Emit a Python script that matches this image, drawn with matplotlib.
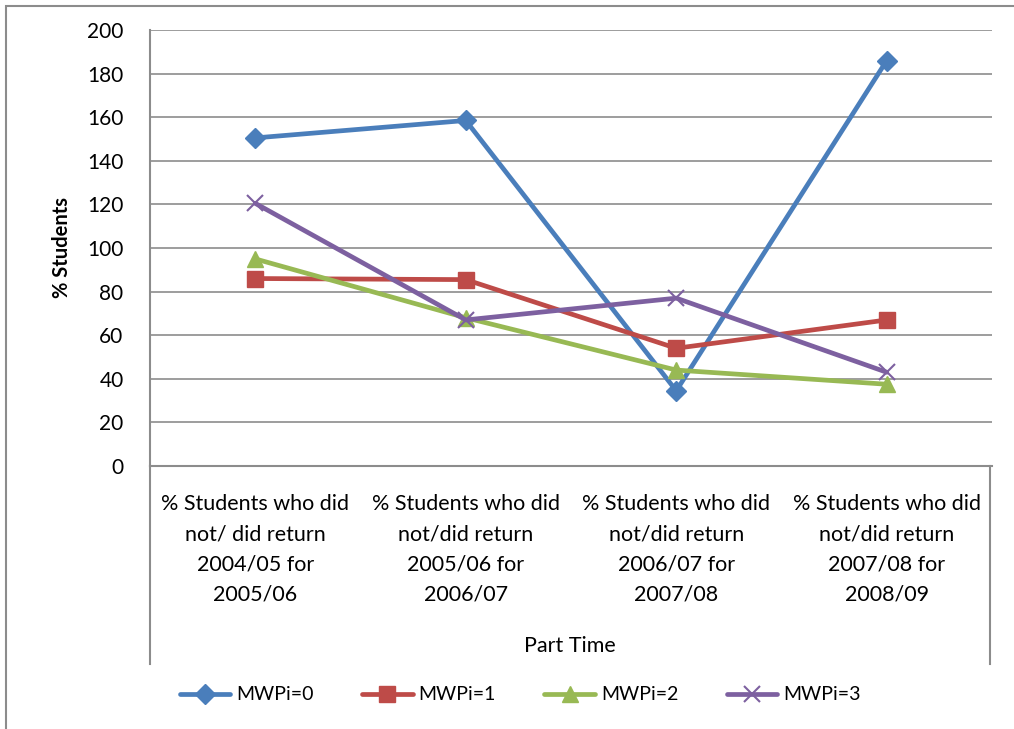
import matplotlib
matplotlib.use("Agg")
import matplotlib.pyplot as plt
from matplotlib.lines import Line2D
from matplotlib.patches import Rectangle

plt.rcParams['font.family'] = ['Lato', 'DejaVu Sans']

categories = [
    "% Students who did\nnot/ did return\n2004/05 for\n2005/06",
    "% Students who did\nnot/did return\n2005/06 for\n2006/07",
    "% Students who did\nnot/did return\n2006/07 for\n2007/08",
    "% Students who did\nnot/did return\n2007/08 for\n2008/09",
]
mwpi0 = [150.5, 158.5, 34.5, 186]
mwpi1 = [86, 85.5, 54, 67]
mwpi2 = [95, 68, 44, 37.5]
mwpi3 = [120.5, 67, 77, 43]

series = [
    ("MWPi=0", mwpi0, "#4A7EBB", "D", 10),
    ("MWPi=1", mwpi1, "#BE4B48", "s", 11.5),
    ("MWPi=2", mwpi2, "#98B954", "^", 12),
    ("MWPi=3", mwpi3, "#7D60A0", "x", 11),
]

fig = plt.figure(figsize=(10.14, 7.29), dpi=100)
ax = fig.add_axes([150 / 1014, 1 - 466 / 729, 842 / 1014, 436 / 729])

x = range(len(categories))
for name, vals, col, mk, ms in series:
    ax.plot(x, vals, color=col, lw=3.4, marker=mk, markersize=ms,
            markeredgecolor=col, markeredgewidth=1.5 if mk == "x" else 1,
            label=name, solid_capstyle='round')

ax.set_xlim(-0.5, 3.5)
ax.set_ylim(0, 200)
ax.set_yticks(range(0, 201, 20))
ax.yaxis.grid(True, color='#8c8c8c', lw=1.2)
ax.set_axisbelow(True)
ax.set_xticks(list(x))
ax.set_xticklabels(categories, fontsize=15.5, linespacing=1.65)
ax.tick_params(axis='x', length=0, pad=20)
ax.tick_params(axis='y', length=0, pad=19, labelsize=15)
for s in ['top', 'right']:
    ax.spines[s].set_visible(False)
for s in ['left', 'bottom']:
    ax.spines[s].set_color('#8c8c8c')
    ax.spines[s].set_linewidth(1.5)

ax.set_ylabel("% Students", fontsize=14.5, fontweight='bold', labelpad=11)

# outer category-axis frame lines
y0, y1 = 1 - 466 / 729, 1 - 664 / 729
for xf in [150 / 1014, 990 / 1014]:
    fig.add_artist(Line2D([xf, xf], [y0, y1], color='#8c8c8c', lw=1.5))

fig.text(570 / 1014, 1 - 646 / 729, "Part Time", ha='center', va='center', fontsize=15.5)

# chart border
fig.add_artist(Rectangle((6 / 1014, -0.05), 1.1, 1 - 6 / 729 + 0.05, fill=False,
                         edgecolor='#8c8c8c', lw=1.5))

fig.legend(loc='center', bbox_to_anchor=(0.513, 1 - 695 / 729), ncol=4, frameon=False,
           fontsize=14, handlelength=2.6, columnspacing=2.5, handletextpad=0.3)

fig.savefig("out.png", dpi=100)
